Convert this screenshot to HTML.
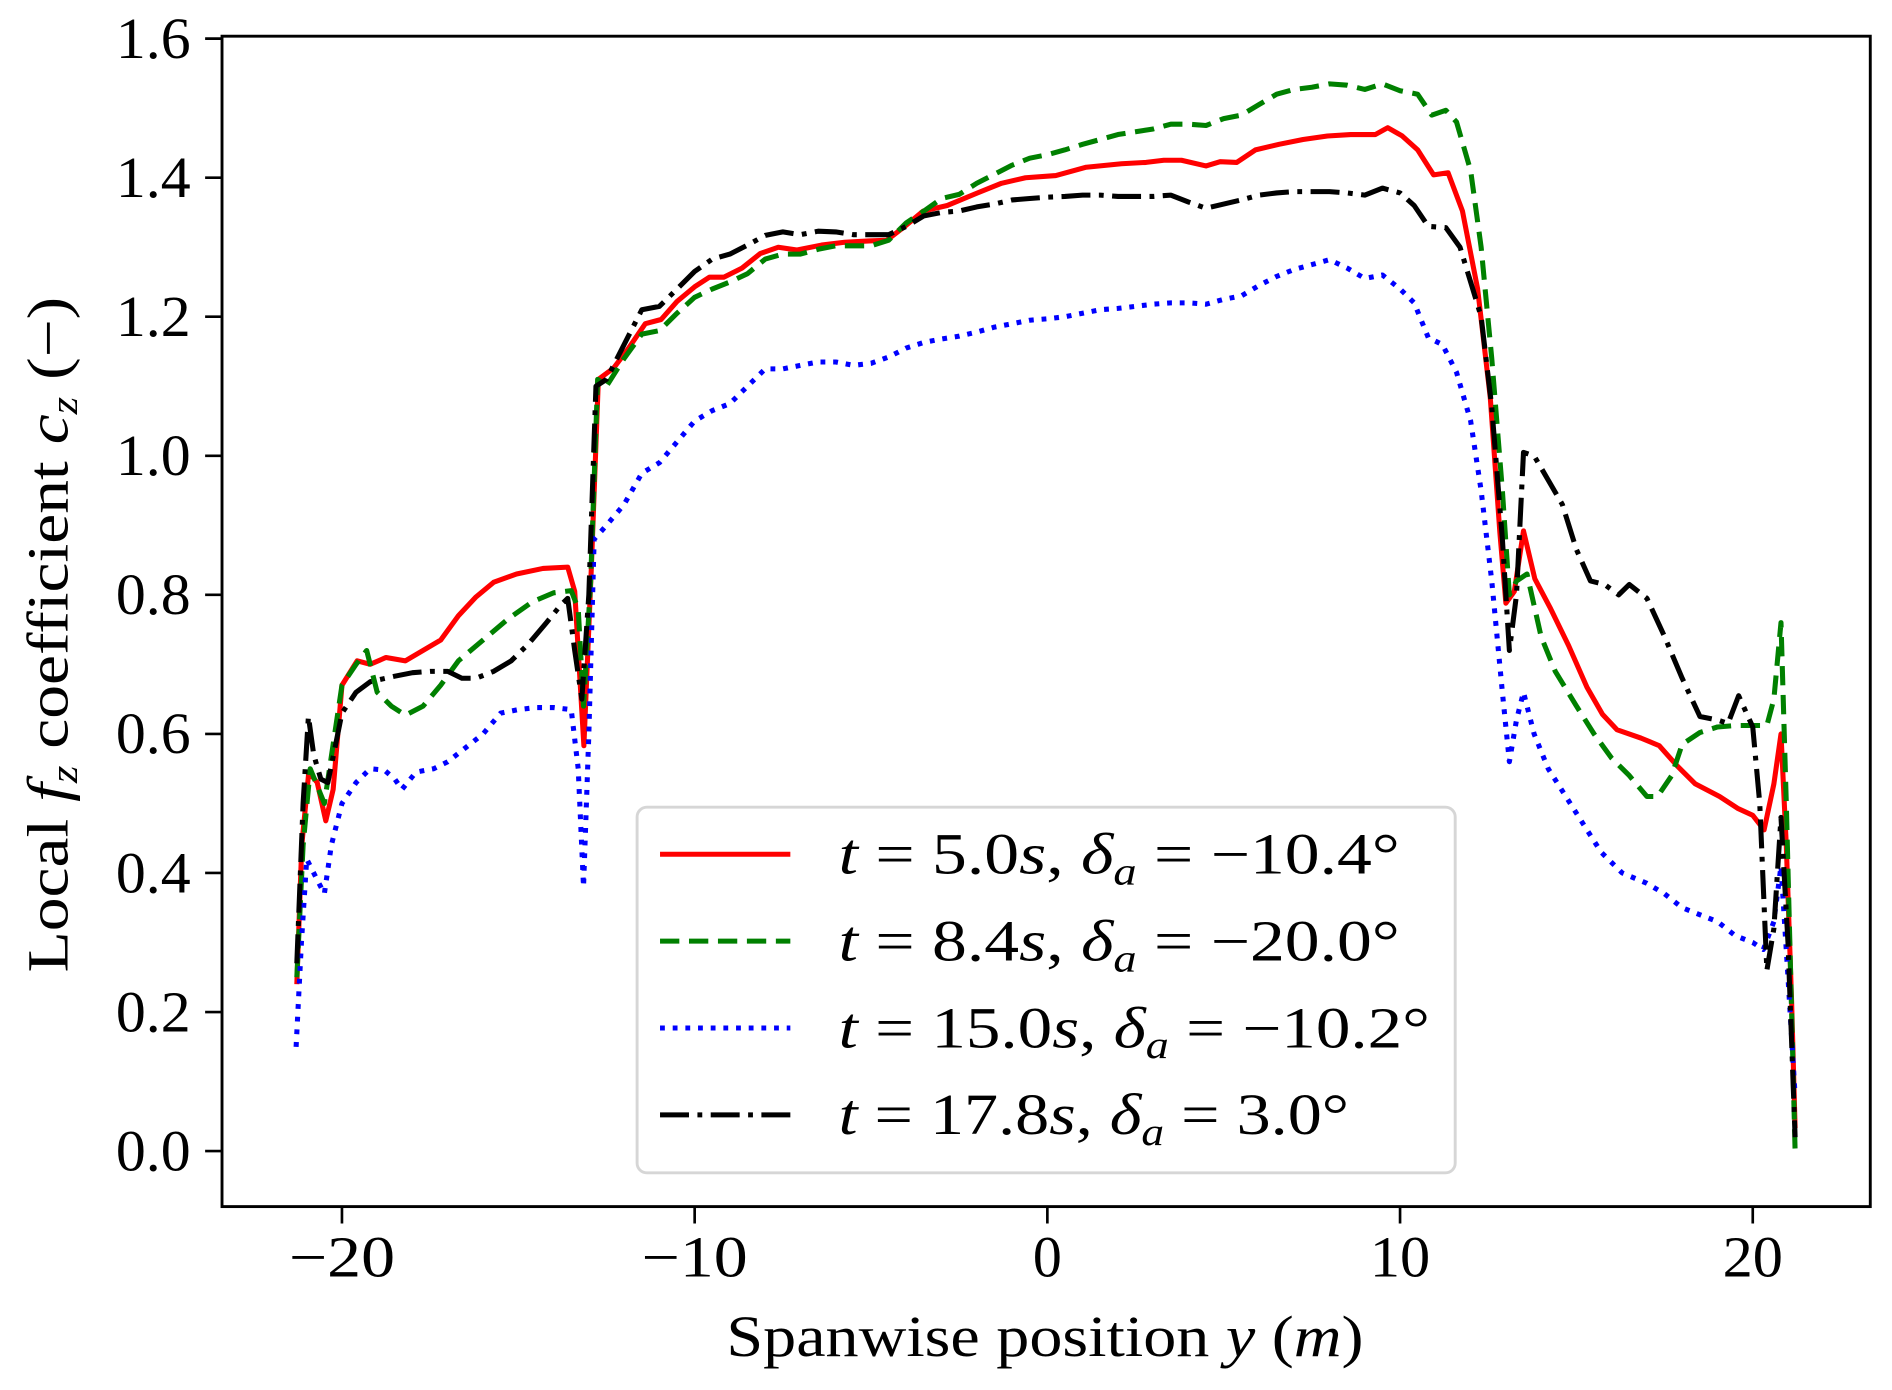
<!DOCTYPE html>
<html><head><meta charset="utf-8"><style>
html,body{margin:0;padding:0;background:#fff;}
svg{display:block;}
text{font-family:"Liberation Serif","DejaVu Serif",serif;fill:#000;}
</style></head><body>
<svg id="chart" width="1892" height="1390" viewBox="0 0 1568 1152" preserveAspectRatio="none" xmlns="http://www.w3.org/2000/svg">
<rect x="0" y="0" width="1568" height="1152" fill="#fff"/>
<g id="plot"></g>
<rect x="184" y="30" width="1366" height="970" fill="none" stroke="#000" stroke-width="2.4"/>
<g id="xticks"></g>
<g id="yticks"></g>
<text x="602" y="1124" font-size="48" textLength="528" lengthAdjust="spacingAndGlyphs">Spanwise position <tspan font-style="italic">y</tspan> (<tspan font-style="italic">m</tspan>)</text>
<text transform="translate(56,806) rotate(-90)" font-size="48" textLength="560" lengthAdjust="spacingAndGlyphs">Local <tspan font-style="italic">f</tspan><tspan font-style="italic" font-size="32" dy="8">z</tspan><tspan dy="-8"> coefficient </tspan><tspan font-style="italic">c</tspan><tspan font-style="italic" font-size="32" dy="8">z</tspan><tspan dy="-8"> (−)</tspan></text>
<g>
<rect x="528" y="669" width="678" height="303" rx="8" fill="#fff" fill-opacity="0.85" stroke="#d6d6d6" stroke-width="2.4"/>
<g id="legend-items"></g>
</g>
</svg>
<script>
const ticksX = [-20,-10,0,10,20];
const tickLabelsX = ["−20","−10","0","10","20"];
const ticksY = [0,0.2,0.4,0.6,0.8,1.0,1.2,1.4,1.6];
const tickLabelsY = ["0.0","0.2","0.4","0.6","0.8","1.0","1.2","1.4","1.6"];

const redX = [-21.28,-21.14,-20.94,-20.7,-20.46,-20.25,-20,-19.57,-19.2,-18.75,-18.2,-17.7,-17.2,-16.7,-16.2,-15.7,-15.05,-14.3,-13.6,-13.4,-13.14,-12.93,-12.73,-12.3,-11.9,-11.4,-10.95,-10.5,-10,-9.58,-9.17,-8.66,-8.14,-7.63,-7.1,-6.4,-5.75,-5.06,-4.55,-4.04,-3.52,-2.84,-1.98,-1.3,-0.62,0.24,1.1,2.1,2.8,3.3,3.8,4.5,4.9,5.37,5.9,6.57,7.25,7.94,8.6,9.3,9.65,10.06,10.5,10.95,11.36,11.77,12.2,12.56,12.83,13.0,13.24,13.5,13.82,14.27,14.78,15.3,15.74,16.15,16.83,17.35,17.86,18.37,19.06,19.57,20,20.32,20.6,20.8,20.95,21.1,21.2];
const redY = [0.24,0.44,0.545,0.53,0.475,0.52,0.67,0.705,0.70,0.71,0.705,0.72,0.735,0.77,0.797,0.818,0.83,0.838,0.84,0.805,0.583,0.84,1.11,1.126,1.153,1.19,1.196,1.222,1.243,1.257,1.257,1.27,1.291,1.30,1.296,1.303,1.307,1.309,1.31,1.33,1.352,1.36,1.378,1.392,1.40,1.403,1.415,1.42,1.422,1.425,1.425,1.417,1.423,1.422,1.44,1.448,1.455,1.46,1.462,1.462,1.472,1.46,1.44,1.404,1.407,1.352,1.24,1.083,0.89,0.788,0.805,0.892,0.823,0.78,0.727,0.667,0.628,0.606,0.594,0.583,0.554,0.528,0.51,0.493,0.483,0.462,0.528,0.6,0.44,0.215,0.033];

const greenX = [-21.28,-21.1,-20.9,-20.5,-20.0,-19.6,-19.3,-19.0,-18.6,-18.2,-17.7,-17.2,-16.7,-16.0,-15.3,-14.6,-14.0,-13.5,-13.3,-13.15,-12.95,-12.75,-12.5,-12.0,-11.5,-11.0,-10.5,-10.0,-9.5,-9.0,-8.5,-8.0,-7.5,-7.0,-6.5,-6.0,-5.0,-4.5,-4.0,-3.5,-3.0,-2.5,-2.0,-1.5,-1.0,-0.5,0,0.5,1,1.5,2,2.5,3,3.5,4,4.5,5,5.5,6,6.5,7,7.5,8,8.5,9,9.5,10,10.5,10.9,11.3,11.6,12.0,12.3,12.6,12.9,13.1,13.3,13.6,14.0,14.4,15.0,15.5,16.0,16.5,17.0,17.3,17.7,18.0,18.5,19.0,19.5,20.0,20.4,20.6,20.8,20.95,21.1,21.2];
const greenY = [0.25,0.44,0.55,0.5,0.67,0.70,0.72,0.66,0.64,0.627,0.64,0.67,0.705,0.735,0.765,0.79,0.803,0.806,0.78,0.64,0.82,1.11,1.10,1.14,1.175,1.18,1.205,1.228,1.24,1.25,1.262,1.283,1.29,1.29,1.297,1.302,1.302,1.31,1.335,1.352,1.37,1.376,1.392,1.405,1.418,1.428,1.433,1.44,1.448,1.455,1.462,1.466,1.47,1.477,1.477,1.475,1.485,1.49,1.505,1.52,1.527,1.53,1.535,1.533,1.527,1.535,1.525,1.52,1.49,1.497,1.48,1.41,1.3,1.14,0.95,0.8,0.82,0.83,0.74,0.69,0.64,0.6,0.565,0.54,0.51,0.51,0.54,0.585,0.602,0.61,0.612,0.612,0.612,0.65,0.76,0.5,0.2,0.0];

const blueX = [-21.3,-21.15,-21.0,-20.8,-20.5,-20.3,-20.0,-19.6,-19.2,-18.8,-18.5,-18.3,-17.9,-17.4,-17.0,-16.5,-16.0,-15.5,-15.0,-14.5,-14.0,-13.5,-13.3,-13.15,-13.0,-12.85,-12.5,-12.0,-11.5,-11.0,-10.5,-10.0,-9.5,-9.0,-8.5,-8.0,-7.5,-7.0,-6.5,-6.0,-5.5,-5.0,-4.5,-4.0,-3.5,-3.0,-2.5,-2.0,-1.5,-1.0,-0.5,0,0.5,1,1.5,2,2.5,3,3.5,4,4.5,5,5.5,6,6.5,7,7.5,8,8.5,9,9.5,10,10.4,10.8,11.2,11.6,12.0,12.3,12.6,12.9,13.1,13.3,13.5,13.8,14.2,14.7,15.2,15.7,16.3,17,17.5,18,18.5,19,19.5,20,20.3,20.6,20.8,21.0,21.2];
const blueY = [0.15,0.30,0.42,0.40,0.37,0.44,0.5,0.53,0.55,0.548,0.535,0.52,0.545,0.55,0.56,0.58,0.6,0.63,0.635,0.638,0.638,0.635,0.55,0.38,0.6,0.88,0.9,0.93,0.975,0.99,1.02,1.05,1.065,1.075,1.1,1.125,1.125,1.13,1.135,1.135,1.13,1.133,1.142,1.155,1.163,1.168,1.172,1.178,1.185,1.19,1.195,1.197,1.2,1.205,1.21,1.212,1.215,1.218,1.22,1.22,1.218,1.225,1.23,1.245,1.258,1.268,1.275,1.282,1.27,1.255,1.26,1.24,1.22,1.17,1.16,1.12,1.05,0.95,0.82,0.66,0.56,0.62,0.66,0.6,0.55,0.51,0.47,0.43,0.4,0.385,0.37,0.35,0.34,0.33,0.31,0.3,0.29,0.33,0.41,0.25,0.08];

const blackX = [-21.28,-21.1,-20.95,-20.8,-20.6,-20.4,-20.2,-20.0,-19.6,-19.2,-18.5,-18.0,-17.5,-17.0,-16.6,-16.2,-15.7,-15.2,-14.7,-14.2,-13.8,-13.6,-13.4,-13.2,-13.0,-12.8,-12.5,-12.0,-11.5,-11.0,-10.5,-10.0,-9.5,-9.0,-8.5,-8.0,-7.5,-7.0,-6.5,-6.0,-5.5,-5.0,-4.5,-4.0,-3.5,-3.0,-2.5,-2.0,-1.5,-1.0,-0.5,0,0.5,1,1.5,2,2.5,3,3.5,4,4.5,5,5.5,6,6.5,7,7.5,8,8.5,9,9.5,10,10.4,10.8,11.3,11.7,12.0,12.3,12.6,12.9,13.1,13.3,13.5,13.8,14.2,14.6,15.0,15.4,15.8,16.2,16.5,17.0,17.5,18.0,18.5,19.0,19.3,19.6,20.0,20.2,20.4,20.6,20.8,21.0,21.2];
const blackY = [0.27,0.5,0.625,0.57,0.535,0.53,0.58,0.63,0.66,0.675,0.683,0.688,0.69,0.69,0.68,0.68,0.69,0.705,0.73,0.76,0.785,0.795,0.72,0.65,0.8,1.1,1.11,1.16,1.21,1.215,1.24,1.265,1.283,1.29,1.303,1.317,1.322,1.318,1.323,1.322,1.318,1.318,1.318,1.33,1.345,1.35,1.352,1.358,1.362,1.368,1.37,1.372,1.373,1.375,1.375,1.373,1.373,1.373,1.375,1.365,1.356,1.362,1.368,1.375,1.378,1.38,1.38,1.38,1.378,1.375,1.385,1.378,1.36,1.33,1.328,1.3,1.25,1.2,1.07,0.88,0.72,0.8,1.005,1.0,0.965,0.93,0.865,0.82,0.815,0.8,0.815,0.795,0.74,0.68,0.625,0.62,0.615,0.655,0.61,0.5,0.26,0.32,0.48,0.3,0.02];

const seriesNames = ["red-series-t5","green-series-t8-4","blue-series-t15","black-series-t17-8"];
const legendLabels = [
 ['5.0','−10.4'],['8.4','−20.0'],['15.0','−10.2'],['17.8','3.0']
];
const legendWidths = [465,465,490,423];

function xs(v){return 868 + v*29.23;}
function ys(v){return 954 - v*576.25;}
const NS="http://www.w3.org/2000/svg";
const styles = [
 {c:"#ff0000",d:""},
 {c:"#008000",d:"16,8"},
 {c:"#0000ff",d:"4,6.5"},
 {c:"#000000",d:"24,7,4,7"}
];
const plot=document.getElementById('plot');
const allX=[redX,greenX,blueX,blackX], allY=[redY,greenY,blueY,blackY];
for(let s=0;s<4;s++){
  const p=document.createElementNS(NS,'path');
  let d='';
  for(let i=0;i<allX[s].length;i++) d+=(i?'L':'M')+xs(allX[s][i]).toFixed(1)+','+ys(allY[s][i]).toFixed(1);
  p.setAttribute('d',d);
  p.setAttribute('fill','none');
  p.setAttribute('stroke',styles[s].c);
  p.setAttribute('stroke-width','4.2');
  p.setAttribute('stroke-linejoin','round');
  if(styles[s].d) p.setAttribute('stroke-dasharray',styles[s].d);
  
  
  plot.appendChild(p);
}
const gx=document.getElementById('xticks');
ticksX.forEach((v,i)=>{
  const l=document.createElementNS(NS,'line');
  l.setAttribute('x1',xs(v));l.setAttribute('x2',xs(v));l.setAttribute('y1',1000);l.setAttribute('y2',1014);
  l.setAttribute('stroke','#000');l.setAttribute('stroke-width','2.2');
  
  
  gx.appendChild(l);
  const t=document.createElementNS(NS,'text');
  const w = tickLabelsX[i].length===3 ? 88 : (tickLabelsX[i].length===2 ? 50 : 24);
  t.setAttribute('x',xs(v)-w/2);t.setAttribute('y',1058);t.setAttribute('font-size','48');
  t.setAttribute('textLength',w);t.setAttribute('lengthAdjust','spacingAndGlyphs');
  t.textContent=tickLabelsX[i];
  
  
  gx.appendChild(t);
});
const gy=document.getElementById('yticks');
ticksY.forEach((v,i)=>{
  const l=document.createElementNS(NS,'line');
  l.setAttribute('x1',170);l.setAttribute('x2',184);l.setAttribute('y1',ys(v));l.setAttribute('y2',ys(v));
  l.setAttribute('stroke','#000');l.setAttribute('stroke-width','2.2');
  
  
  gy.appendChild(l);
  const t=document.createElementNS(NS,'text');
  t.setAttribute('x',96);t.setAttribute('y',ys(v)+16);t.setAttribute('font-size','48');
  t.setAttribute('textLength',62);t.setAttribute('lengthAdjust','spacingAndGlyphs');
  t.textContent=tickLabelsY[i];
  
  
  gy.appendChild(t);
});
const lg=document.getElementById('legend-items');
legendLabels.forEach((lab,i)=>{
  const y=708+i*72;
  const l=document.createElementNS(NS,'line');
  l.setAttribute('x1',547);l.setAttribute('x2',655);l.setAttribute('y1',y);l.setAttribute('y2',y);
  l.setAttribute('stroke',styles[i].c);l.setAttribute('stroke-width','4.2');
  if(styles[i].d) l.setAttribute('stroke-dasharray',styles[i].d);
  
  
  lg.appendChild(l);
  const t=document.createElementNS(NS,'text');
  t.setAttribute('x',695);t.setAttribute('y',y+16);t.setAttribute('font-size','48');
  t.setAttribute('textLength',legendWidths[i]);t.setAttribute('lengthAdjust','spacingAndGlyphs');
  t.innerHTML='<tspan font-style="italic">t</tspan> = '+lab[0]+'<tspan font-style="italic">s</tspan>, <tspan font-style="italic">δ</tspan><tspan font-style="italic" font-size="32" dy="9">a</tspan><tspan dy="-9"> = '+lab[1]+'°</tspan>';
  
  
  lg.appendChild(t);
});
</script>
</body></html>
